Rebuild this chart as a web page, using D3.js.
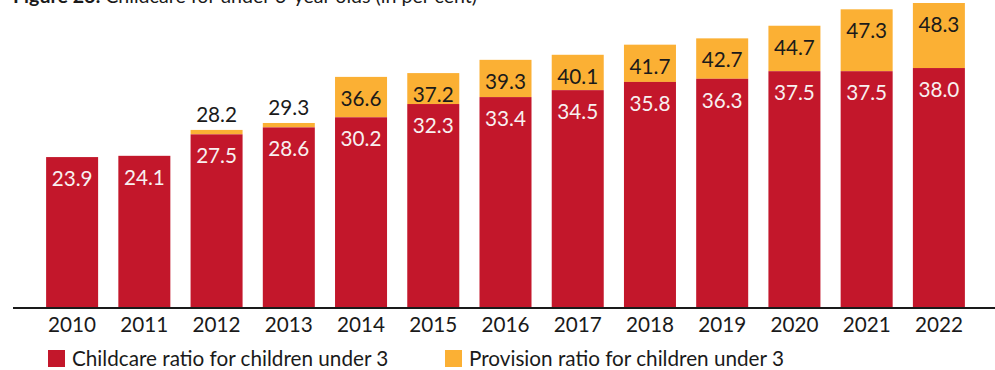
<!DOCTYPE html>
<html>
<head>
<meta charset="utf-8">
<script src="https://cdn.jsdelivr.net/npm/d3@7"></script>
<style>
  body { margin: 0; background: #fff; }
  svg { display: block; font-family: Lato, "Noto Sans", sans-serif; }
</style>
</head>
<body>
<svg id="chart" width="995" height="370"></svg>
<script>
var years = ["2010", "2011", "2012", "2013", "2014", "2015", "2016", "2017", "2018", "2019", "2020", "2021", "2022"];
var childcare = [23.9, 24.1, 27.5, 28.6, 30.2, 32.3, 33.4, 34.5, 35.8, 36.3, 37.5, 37.5, 38.0];
var provision = [null, null, 28.2, 29.3, 36.6, 37.2, 39.3, 40.1, 41.7, 42.7, 44.7, 47.3, 48.3];
var legendLabels = ["Childcare ratio for children under 3", "Provision ratio for children under 3"];

var red = "#c3172b", orange = "#fbb034";
var base = 308;
var fs = 20.7;

var svg = d3.select("#chart");

// title, mostly cut off at the top
var title = svg.append("text")
  .attr("x", 13)
  .attr("y", 3)
  .attr("font-size", 19.6)
  .attr("fill", "#1a1a1a");
title.append("tspan").attr("font-weight", "bold").text("Figure 26: ");
title.append("tspan").text("Childcare for under 3-year olds (in per cent)");

var x = d3.scaleBand()
  .domain(years)
  .range([36, 975])
  .paddingInner(0.28)
  .paddingOuter(0.14);

var y = d3.scaleLinear()
  .domain([0, 48.3])
  .range([base, 3]);

var data = years.map(function (d, i) {
  return { year: d, childcare: childcare[i], provision: provision[i] };
});

// provision segment (from childcare top up to provision ratio)
svg.selectAll(".prov")
  .data(data.filter(function (d) { return d.provision != null; }))
  .enter()
  .append("rect")
  .attr("class", "prov")
  .attr("x", function (d) { return x(d.year); })
  .attr("width", x.bandwidth())
  .attr("y", function (d) { return y(d.provision); })
  .attr("height", function (d) { return y(d.childcare) - y(d.provision); })
  .attr("fill", orange);

// childcare bars
svg.selectAll(".care")
  .data(data)
  .enter()
  .append("rect")
  .attr("class", "care")
  .attr("x", function (d) { return x(d.year); })
  .attr("width", x.bandwidth())
  .attr("y", function (d) { return y(d.childcare); })
  .attr("height", function (d) { return base - y(d.childcare); })
  .attr("fill", red);

// value labels
svg.selectAll(".careLabel")
  .data(data)
  .enter()
  .append("text")
  .attr("x", function (d) { return x(d.year) + x.bandwidth() / 2; })
  .attr("y", function (d) { return y(d.childcare) + 29; })
  .attr("text-anchor", "middle")
  .attr("font-size", fs)
  .attr("fill", "#f8f0f0")
  .text(function (d) { return d.childcare.toFixed(1); });

svg.selectAll(".provLabel")
  .data(data.filter(function (d) { return d.provision != null; }))
  .enter()
  .append("text")
  .attr("x", function (d) { return x(d.year) + x.bandwidth() / 2; })
  .attr("y", function (d) {
    var thin = y(d.childcare) - y(d.provision) < 20;
    return thin ? y(d.provision) - 8 : y(d.provision) + 29;
  })
  .attr("text-anchor", "middle")
  .attr("font-size", fs)
  .attr("fill", "#1a1a1a")
  .text(function (d) { return d.provision.toFixed(1); });

// x axis
var xAxis = d3.axisBottom(x).tickSize(0).tickPadding(9);
var gx = svg.append("g")
  .attr("transform", "translate(0," + base + ")")
  .call(xAxis);
gx.select(".domain").remove();
gx.selectAll("text")
  .attr("font-size", fs)
  .attr("font-family", "Lato, Noto Sans, sans-serif")
  .attr("fill", "#1a1a1a");

svg.append("line")
  .attr("x1", 13).attr("x2", 995)
  .attr("y1", base).attr("y2", base)
  .attr("stroke", "#1a1a1a")
  .attr("stroke-width", 2);

// legend
var legendX = [48, 445];
var legendColors = [red, orange];
var lg = svg.selectAll(".legend")
  .data(legendLabels)
  .enter()
  .append("g")
  .attr("transform", function (d, i) { return "translate(" + legendX[i] + ",350)"; });
lg.append("rect")
  .attr("width", 17).attr("height", 17)
  .attr("fill", function (d, i) { return legendColors[i]; });
lg.append("text")
  .attr("x", 24)
  .attr("y", 16)
  .attr("font-size", fs)
  .attr("fill", "#1a1a1a")
  .text(function (d) { return d; });
</script>
</body>
</html>
